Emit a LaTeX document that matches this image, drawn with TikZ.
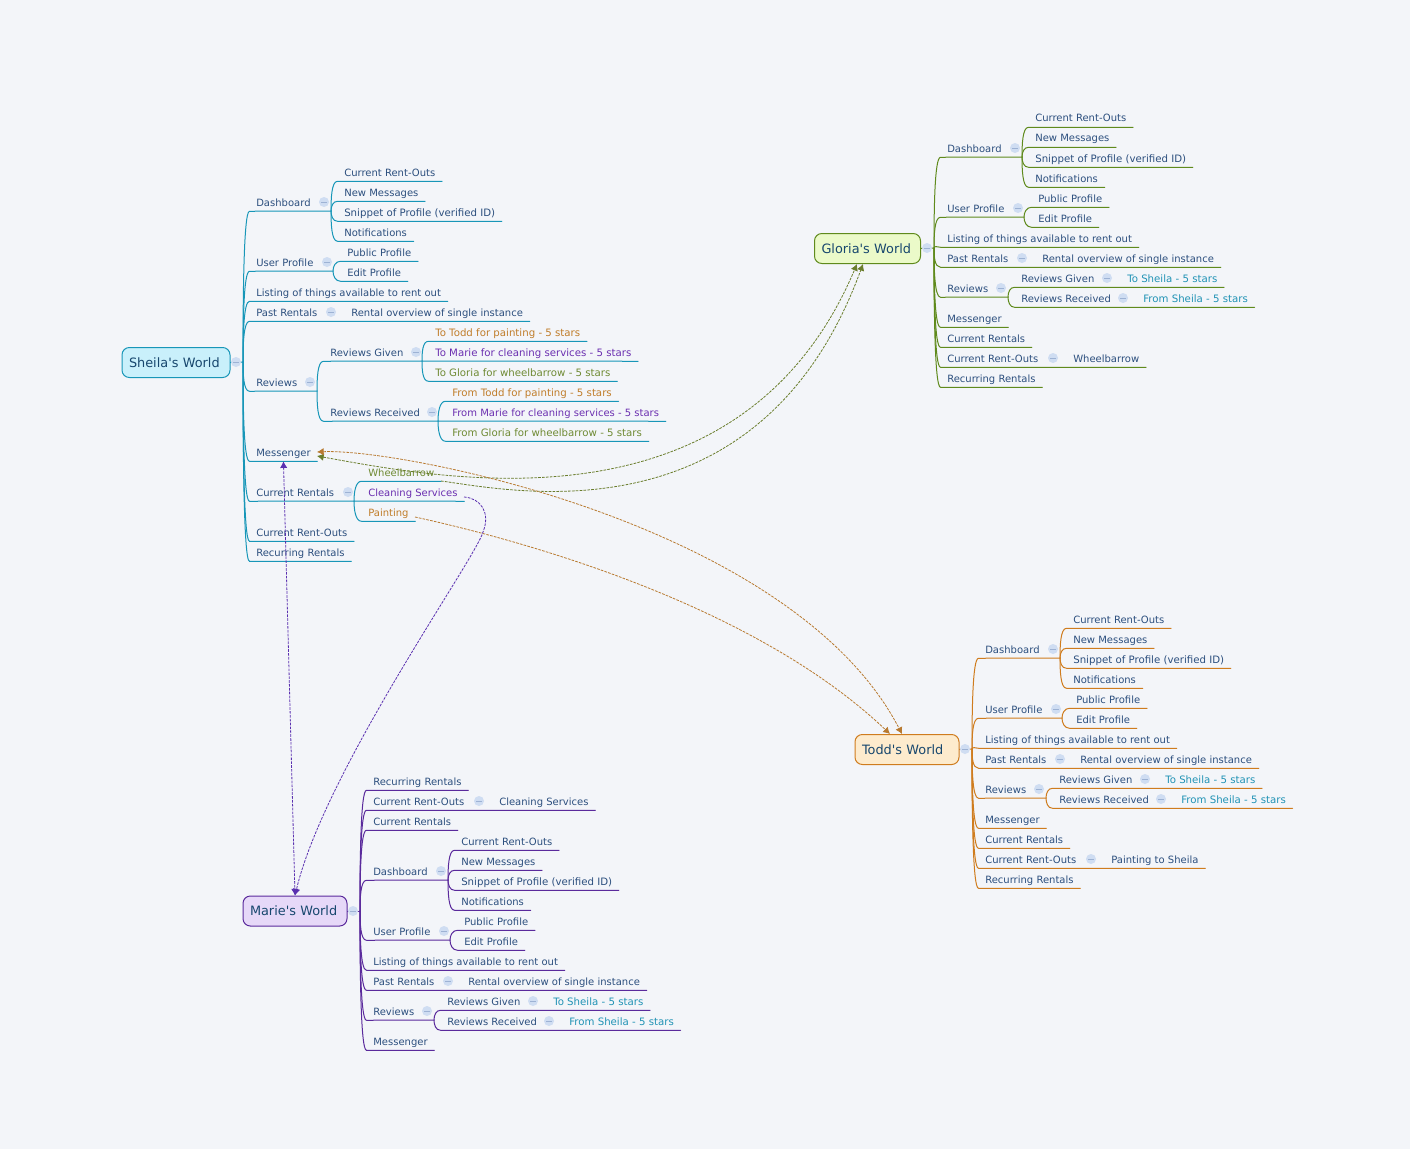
\documentclass[tikz,border=0pt]{standalone}
\usepackage{fontspec}
\setmainfont{DejaVu Sans}
\usetikzlibrary{arrows.meta}

\definecolor{bgcolor}{HTML}{F3F5F9}
\definecolor{topictext}{HTML}{2C4F7E}
\definecolor{worldtext}{HTML}{17476E}
\definecolor{sheilaline}{HTML}{1796B8}
\definecolor{sheilafill}{HTML}{C9F0FB}
\definecolor{glorialine}{HTML}{5F8A1C}
\definecolor{gloriafill}{HTML}{EBFAC9}
\definecolor{toddline}{HTML}{CF7C1E}
\definecolor{toddfill}{HTML}{FDEBCD}
\definecolor{marieline}{HTML}{5A2A9C}
\definecolor{mariefill}{HTML}{E6D8F8}
\definecolor{orangetext}{HTML}{C07D2A}
\definecolor{purpletext}{HTML}{6B2FB0}
\definecolor{olivetext}{HTML}{6F8A33}
\definecolor{tealtext}{HTML}{2193B5}
\definecolor{markfill}{HTML}{CFDDF2}
\definecolor{markdash}{HTML}{9DB2D4}
\definecolor{olivedash}{HTML}{6A7D2C}
\definecolor{orangedash}{HTML}{B87A30}
\definecolor{purpledash}{HTML}{5A30B0}

\tikzset{
    topic/.style={anchor=west, xshift=-4.9pt, yshift=-.375pt, font=\fontsize{7.51}{10}\selectfont, text=topictext,
        text height=6pt, text depth=.75pt, inner ysep=3pt, inner xsep=4.9pt},
    wider/.style={font=\fontsize{7.65}{10}\selectfont},
    orangetopic/.style={topic, text=orangetext},
    purpletopic/.style={topic, text=purpletext},
    olivetopic/.style={topic, text=olivetext},
    tealtopic/.style={topic, wider, text=tealtext},
    world/.style={shape=rectangle, rounded corners=5.5pt, line width=.75pt, minimum height=22.5pt,
        inner xsep=5.25pt, align=left, font=\fontsize{9.65}{12}\selectfont, text=worldtext},
    minusmark/.style={shape=circle, minimum size=7.5pt, inner sep=0pt, fill=markfill,
        path picture={\draw[markdash, line width=.6pt] ([xshift=-2pt]path picture bounding box.center) -- ([xshift=2pt]path picture bounding box.center);}},
    sline/.style={draw=sheilaline, line width=.75pt, line cap=round},
    gline/.style={draw=glorialine, line width=.75pt, line cap=round},
    tline/.style={draw=toddline, line width=.75pt, line cap=round},
    mline/.style={draw=marieline, line width=.75pt, line cap=round},
    upb/.style={out=90, in=180, in max distance=4.5pt},
    dnb/.style={out=-90, in=180, in max distance=4.5pt},
    rel/.style={dash pattern=on 2pt off .9pt, line width=.6pt},
}

\begin{document}
\begin{tikzpicture}[x=.75pt, y=-.75pt, >={Latex[length=5pt,width=5.5pt]}]
    \fill[bgcolor] (0,0) rectangle (1410,1149);
    \useasboundingbox (0,0) rectangle (1410,1149);

    \node[world, draw=sheilaline, fill=sheilafill, text width=70.5pt] (sheila) at (176,362.5) {Sheila\textquotesingle s World};
    \coordinate (sJoint) at (243,362);
    \node[topic] (sDash) at (256,202) {Dashboard};
    \node[topic] (sDashA) at (344,172) {Current Rent-Outs};
    \node[topic] (sDashB) at (344,192) {New Messages};
    \node[topic, wider] (sDashC) at (344,212) {Snippet of Profile (verified ID)};
    \node[topic] (sDashD) at (344,232) {Notifications};
    \node[topic] (sUser) at (256,262) {User Profile};
    \node[topic] (sUserA) at (347,252) {Public Profile};
    \node[topic] (sUserB) at (347,272) {Edit Profile};
    \node[topic] (sList) at (256,292) {Listing of things available to rent out};
    \node[topic] (sPast) at (256,312) {Past Rentals};
    \node[topic] (sPastA) at (351,312) {Rental overview of single instance};
    \node[topic] (sRev) at (256,382) {Reviews};
    \node[topic] (sGiven) at (330,352) {Reviews Given};
    \node[orangetopic, wider] (sGivenA) at (435,332) {To Todd for painting - 5 stars};
    \node[purpletopic, wider] (sGivenB) at (435,352) {To Marie for cleaning services - 5 stars};
    \node[olivetopic, wider] (sGivenC) at (435,372) {To Gloria for wheelbarrow - 5 stars};
    \node[topic] (sRecv) at (330,412) {Reviews Received};
    \node[orangetopic, wider] (sRecvA) at (452,392) {From Todd for painting - 5 stars};
    \node[purpletopic] (sRecvB) at (452,412) {From Marie for cleaning services - 5 stars};
    \node[olivetopic, wider] (sRecvC) at (452,432) {From Gloria for wheelbarrow - 5 stars};
    \node[topic] (sMess) at (256,452) {Messenger};
    \node[topic] (sRent) at (256,492) {Current Rentals};
    \node[olivetopic] (sRentA) at (368,472) {Wheelbarrow};
    \node[purpletopic] (sRentB) at (368,492) {Cleaning Services};
    \node[orangetopic] (sRentC) at (368,512) {Painting};
    \node[topic] (sOuts) at (256,532) {Current Rent-Outs};
    \node[topic] (sRecur) at (256,552) {Recurring Rentals};

    \coordinate (sDashF) at (331,211);
    \coordinate (sUserF) at (333,271);
    \coordinate (sRevF) at (317,391);
    \coordinate (sGivenF) at (422,361);
    \coordinate (sRecvF) at (438,421);
    \coordinate (sRentF) at (354,501);

    \draw[sline] (sheila.east) -- (sJoint);
    \draw[sline] (sJoint) to[upb] (sDash.south west) -- (sDashF);
    \draw[sline] (sDashF) to[upb] (sDashA.south west) -- (sDashA.south east);
    \draw[sline] (sDashF) to[upb] (sDashB.south west) -- (sDashB.south east);
    \draw[sline] (sDashF) to[dnb] (sDashC.south west) -- (sDashC.south east);
    \draw[sline] (sDashF) to[dnb] (sDashD.south west) -- (sDashD.south east);
    \draw[sline] (sJoint) to[upb] (sUser.south west) -- (sUserF);
    \draw[sline] (sUserF) to[upb] (sUserA.south west) -- (sUserA.south east);
    \draw[sline] (sUserF) to[dnb] (sUserB.south west) -- (sUserB.south east);
    \draw[sline] (sJoint) to[upb] (sList.south west) -- (sList.south east);
    \draw[sline] (sJoint) to[upb] (sPast.south west) -- (sPastA.south east);
    \draw[sline] (sJoint) to[dnb] (sRev.south west) -- (sRevF);
    \draw[sline] (sRevF) to[upb] (sGiven.south west) -- (sGivenF);
    \draw[sline] (sGivenF) to[upb] (sGivenA.south west) -- (sGivenA.south east);
    \draw[sline] (sGivenF) -- (sGivenB.south east);
    \draw[sline] (sGivenF) to[dnb] (sGivenC.south west) -- (sGivenC.south east);
    \draw[sline] (sRevF) to[dnb] (sRecv.south west) -- (sRecvF);
    \draw[sline] (sRecvF) to[upb] (sRecvA.south west) -- (sRecvA.south east);
    \draw[sline] (sRecvF) -- (sRecvB.south east);
    \draw[sline] (sRecvF) to[dnb] (sRecvC.south west) -- (sRecvC.south east);
    \draw[sline] (sJoint) to[dnb] (sMess.south west) -- (sMess.south east);
    \draw[sline] (sJoint) to[dnb] (sRent.south west) -- (sRentF);
    \draw[sline] (sRentF) to[upb] (sRentA.south west) -- (sRentA.south east);
    \draw[sline] (sRentF) -- (sRentB.south east);
    \draw[sline] (sRentF) to[dnb] (sRentC.south west) -- (sRentC.south east);
    \draw[sline] (sJoint) to[dnb] (sOuts.south west) -- (sOuts.south east);
    \draw[sline] (sJoint) to[dnb] (sRecur.south west) -- (sRecur.south east);

    \node[minusmark] (sMark) at (236,362) {};
    \node[minusmark] (sDashM) at (324,202) {};
    \node[minusmark] (sUserM) at (327,262) {};
    \node[minusmark] (sPastM) at (331,312) {};
    \node[minusmark] (sRevM) at (310,382) {};
    \node[minusmark] (sGivenM) at (416,352) {};
    \node[minusmark] (sRecvM) at (432,412) {};
    \node[minusmark] (sRentM) at (348,492) {};

    \node[world, draw=glorialine, fill=gloriafill, text width=69pt] (gloria) at (867.5,248.5) {Gloria\textquotesingle s World};
    \coordinate (gJoint) at (934,248);
    \node[topic] (gDash) at (947,148) {Dashboard};
    \node[topic] (gDashA) at (1035,118) {Current Rent-Outs};
    \node[topic] (gDashB) at (1035,138) {New Messages};
    \node[topic, wider] (gDashC) at (1035,158) {Snippet of Profile (verified ID)};
    \node[topic] (gDashD) at (1035,178) {Notifications};
    \node[topic] (gUser) at (947,208) {User Profile};
    \node[topic] (gUserA) at (1038,198) {Public Profile};
    \node[topic] (gUserB) at (1038,218) {Edit Profile};
    \node[topic] (gList) at (947,238) {Listing of things available to rent out};
    \node[topic] (gPast) at (947,258) {Past Rentals};
    \node[topic] (gPastA) at (1042,258) {Rental overview of single instance};
    \node[topic] (gRev) at (947,288) {Reviews};
    \node[topic] (gGiven) at (1021,278) {Reviews Given};
    \node[tealtopic] (gGivenA) at (1127,278) {To Sheila - 5 stars};
    \node[topic] (gRecv) at (1021,298) {Reviews Received};
    \node[tealtopic] (gRecvA) at (1143,298) {From Sheila - 5 stars};
    \node[topic] (gMess) at (947,318) {Messenger};
    \node[topic] (gRent) at (947,338) {Current Rentals};
    \node[topic] (gOuts) at (947,358) {Current Rent-Outs};
    \node[topic] (gOutsA) at (1073,358) {Wheelbarrow};
    \node[topic] (gRecur) at (947,378) {Recurring Rentals};

    \coordinate (gDashF) at (1022,157);
    \coordinate (gUserF) at (1024,217);
    \coordinate (gRevF) at (1008,297);

    \draw[gline] (gloria.east) -- (gJoint);
    \draw[gline] (gJoint) to[upb] (gDash.south west) -- (gDashF);
    \draw[gline] (gDashF) to[upb] (gDashA.south west) -- (gDashA.south east);
    \draw[gline] (gDashF) to[upb] (gDashB.south west) -- (gDashB.south east);
    \draw[gline] (gDashF) to[dnb] (gDashC.south west) -- (gDashC.south east);
    \draw[gline] (gDashF) to[dnb] (gDashD.south west) -- (gDashD.south east);
    \draw[gline] (gJoint) to[upb] (gUser.south west) -- (gUserF);
    \draw[gline] (gUserF) to[upb] (gUserA.south west) -- (gUserA.south east);
    \draw[gline] (gUserF) to[dnb] (gUserB.south west) -- (gUserB.south east);
    \draw[gline] (gJoint) to[upb] (gList.south west) -- (gList.south east);
    \draw[gline] (gJoint) to[dnb] (gPast.south west) -- (gPastA.south east);
    \draw[gline] (gJoint) to[dnb] (gRev.south west) -- (gRevF);
    \draw[gline] (gRevF) to[upb] (gGiven.south west) -- (gGivenA.south east);
    \draw[gline] (gRevF) to[dnb] (gRecv.south west) -- (gRecvA.south east);
    \draw[gline] (gJoint) to[dnb] (gMess.south west) -- (gMess.south east);
    \draw[gline] (gJoint) to[dnb] (gRent.south west) -- (gRent.south east);
    \draw[gline] (gJoint) to[dnb] (gOuts.south west) -- (gOutsA.south east);
    \draw[gline] (gJoint) to[dnb] (gRecur.south west) -- (gRecur.south east);

    \node[minusmark] (gMark) at (927,248) {};
    \node[minusmark] (gDashM) at (1015,148) {};
    \node[minusmark] (gUserM) at (1018,208) {};
    \node[minusmark] (gPastM) at (1022,258) {};
    \node[minusmark] (gRevM) at (1001,288) {};
    \node[minusmark] (gGivenM) at (1107,278) {};
    \node[minusmark] (gRecvM) at (1123,298) {};
    \node[minusmark] (gOutsM) at (1053,358) {};

    \node[world, draw=toddline, fill=toddfill, text width=67.5pt] (todd) at (907,749.5) {Todd\textquotesingle s World};
    \coordinate (tJoint) at (972,749);
    \node[topic] (tDash) at (985,649) {Dashboard};
    \node[topic] (tDashA) at (1073,619) {Current Rent-Outs};
    \node[topic] (tDashB) at (1073,639) {New Messages};
    \node[topic, wider] (tDashC) at (1073,659) {Snippet of Profile (verified ID)};
    \node[topic] (tDashD) at (1073,679) {Notifications};
    \node[topic] (tUser) at (985,709) {User Profile};
    \node[topic] (tUserA) at (1076,699) {Public Profile};
    \node[topic] (tUserB) at (1076,719) {Edit Profile};
    \node[topic] (tList) at (985,739) {Listing of things available to rent out};
    \node[topic] (tPast) at (985,759) {Past Rentals};
    \node[topic] (tPastA) at (1080,759) {Rental overview of single instance};
    \node[topic] (tRev) at (985,789) {Reviews};
    \node[topic] (tGiven) at (1059,779) {Reviews Given};
    \node[tealtopic] (tGivenA) at (1165,779) {To Sheila - 5 stars};
    \node[topic] (tRecv) at (1059,799) {Reviews Received};
    \node[tealtopic] (tRecvA) at (1181,799) {From Sheila - 5 stars};
    \node[topic] (tMess) at (985,819) {Messenger};
    \node[topic] (tRent) at (985,839) {Current Rentals};
    \node[topic] (tOuts) at (985,859) {Current Rent-Outs};
    \node[topic] (tOutsA) at (1111,859) {Painting to Sheila};
    \node[topic] (tRecur) at (985,879) {Recurring Rentals};

    \coordinate (tDashF) at (1060,658);
    \coordinate (tUserF) at (1062,718);
    \coordinate (tRevF) at (1046,798);

    \draw[tline] (todd.east) -- (tJoint);
    \draw[tline] (tJoint) to[upb] (tDash.south west) -- (tDashF);
    \draw[tline] (tDashF) to[upb] (tDashA.south west) -- (tDashA.south east);
    \draw[tline] (tDashF) to[upb] (tDashB.south west) -- (tDashB.south east);
    \draw[tline] (tDashF) to[dnb] (tDashC.south west) -- (tDashC.south east);
    \draw[tline] (tDashF) to[dnb] (tDashD.south west) -- (tDashD.south east);
    \draw[tline] (tJoint) to[upb] (tUser.south west) -- (tUserF);
    \draw[tline] (tUserF) to[upb] (tUserA.south west) -- (tUserA.south east);
    \draw[tline] (tUserF) to[dnb] (tUserB.south west) -- (tUserB.south east);
    \draw[tline] (tJoint) to[upb] (tList.south west) -- (tList.south east);
    \draw[tline] (tJoint) to[dnb] (tPast.south west) -- (tPastA.south east);
    \draw[tline] (tJoint) to[dnb] (tRev.south west) -- (tRevF);
    \draw[tline] (tRevF) to[upb] (tGiven.south west) -- (tGivenA.south east);
    \draw[tline] (tRevF) to[dnb] (tRecv.south west) -- (tRecvA.south east);
    \draw[tline] (tJoint) to[dnb] (tMess.south west) -- (tMess.south east);
    \draw[tline] (tJoint) to[dnb] (tRent.south west) -- (tRent.south east);
    \draw[tline] (tJoint) to[dnb] (tOuts.south west) -- (tOutsA.south east);
    \draw[tline] (tJoint) to[dnb] (tRecur.south west) -- (tRecur.south east);

    \node[minusmark] (tMark) at (965,749) {};
    \node[minusmark] (tDashM) at (1053,649) {};
    \node[minusmark] (tUserM) at (1056,709) {};
    \node[minusmark] (tPastM) at (1060,759) {};
    \node[minusmark] (tRevM) at (1039,789) {};
    \node[minusmark] (tGivenM) at (1145,779) {};
    \node[minusmark] (tRecvM) at (1161,799) {};
    \node[minusmark] (tOutsM) at (1091,859) {};

    \node[world, draw=marieline, fill=mariefill, text width=67.5pt] (marie) at (295,911) {Marie\textquotesingle s World};
    \coordinate (mJoint) at (360,911);
    \node[topic] (mRecur) at (373,781) {Recurring Rentals};
    \node[topic] (mOuts) at (373,801) {Current Rent-Outs};
    \node[topic] (mOutsA) at (499,801) {Cleaning Services};
    \node[topic] (mRent) at (373,821) {Current Rentals};
    \node[topic] (mDash) at (373,871) {Dashboard};
    \node[topic] (mDashA) at (461,841) {Current Rent-Outs};
    \node[topic] (mDashB) at (461,861) {New Messages};
    \node[topic, wider] (mDashC) at (461,881) {Snippet of Profile (verified ID)};
    \node[topic] (mDashD) at (461,901) {Notifications};
    \node[topic] (mUser) at (373,931) {User Profile};
    \node[topic] (mUserA) at (464,921) {Public Profile};
    \node[topic] (mUserB) at (464,941) {Edit Profile};
    \node[topic] (mList) at (373,961) {Listing of things available to rent out};
    \node[topic] (mPast) at (373,981) {Past Rentals};
    \node[topic] (mPastA) at (468,981) {Rental overview of single instance};
    \node[topic] (mRev) at (373,1011) {Reviews};
    \node[topic] (mGiven) at (447,1001) {Reviews Given};
    \node[tealtopic] (mGivenA) at (553,1001) {To Sheila - 5 stars};
    \node[topic] (mRecv) at (447,1021) {Reviews Received};
    \node[tealtopic] (mRecvA) at (569,1021) {From Sheila - 5 stars};
    \node[topic] (mMess) at (373,1041) {Messenger};

    \coordinate (mDashF) at (448,880);
    \coordinate (mUserF) at (450,940);
    \coordinate (mRevF) at (434,1020);

    \draw[mline] (marie.east) -- (mJoint);
    \draw[mline] (mJoint) to[upb] (mRecur.south west) -- (mRecur.south east);
    \draw[mline] (mJoint) to[upb] (mOuts.south west) -- (mOutsA.south east);
    \draw[mline] (mJoint) to[upb] (mRent.south west) -- (mRent.south east);
    \draw[mline] (mJoint) to[upb] (mDash.south west) -- (mDashF);
    \draw[mline] (mDashF) to[upb] (mDashA.south west) -- (mDashA.south east);
    \draw[mline] (mDashF) to[upb] (mDashB.south west) -- (mDashB.south east);
    \draw[mline] (mDashF) to[dnb] (mDashC.south west) -- (mDashC.south east);
    \draw[mline] (mDashF) to[dnb] (mDashD.south west) -- (mDashD.south east);
    \draw[mline] (mJoint) to[dnb] (mUser.south west) -- (mUserF);
    \draw[mline] (mUserF) to[upb] (mUserA.south west) -- (mUserA.south east);
    \draw[mline] (mUserF) to[dnb] (mUserB.south west) -- (mUserB.south east);
    \draw[mline] (mJoint) to[dnb] (mList.south west) -- (mList.south east);
    \draw[mline] (mJoint) to[dnb] (mPast.south west) -- (mPastA.south east);
    \draw[mline] (mJoint) to[dnb] (mRev.south west) -- (mRevF);
    \draw[mline] (mRevF) to[upb] (mGiven.south west) -- (mGivenA.south east);
    \draw[mline] (mRevF) to[dnb] (mRecv.south west) -- (mRecvA.south east);
    \draw[mline] (mJoint) to[dnb] (mMess.south west) -- (mMess.south east);

    \node[minusmark] (mMark) at (353,911) {};
    \node[minusmark] (mOutsM) at (479,801) {};
    \node[minusmark] (mDashM) at (441,871) {};
    \node[minusmark] (mUserM) at (444,931) {};
    \node[minusmark] (mPastM) at (448,981) {};
    \node[minusmark] (mRevM) at (427,1011) {};
    \node[minusmark] (mGivenM) at (533,1001) {};
    \node[minusmark] (mRecvM) at (549,1021) {};

    \coordinate (sMessG) at (317,456);
    \coordinate (sMessT) at (317,452);
    \coordinate (sWheel) at (441,481);
    \coordinate (sClean) at (464,497);
    \coordinate (sPaint) at (415,517);
    \coordinate (gArrowA) at (857,264);
    \coordinate (gArrowB) at (863,264);
    \coordinate (tArrowA) at (890,734);
    \coordinate (tArrowB) at (902,734);
    \coordinate (mBend) at (483,532);

    \draw[<->, rel, olivedash] (sMessG) .. controls (440,478) and (740,540) .. (gArrowA);
    \draw[->, rel, olivedash] (sWheel) .. controls (510,490) and (760,545) .. (gArrowB);
    \draw[<->, rel, orangedash] (sMessT) .. controls (400,448) and (793,524) .. (tArrowB);
    \draw[->, rel, orangedash] (sPaint) .. controls (520,540) and (752,603) .. (tArrowA);
    \draw[<->, rel, purpledash] (sMess.south) -- (marie.north);
    \draw[->, rel, purpledash] (sClean) .. controls (480,498) and (491,512) .. (mBend) .. controls (476,558) and (325,770) .. (marie.north);
\end{tikzpicture}
\end{document}
